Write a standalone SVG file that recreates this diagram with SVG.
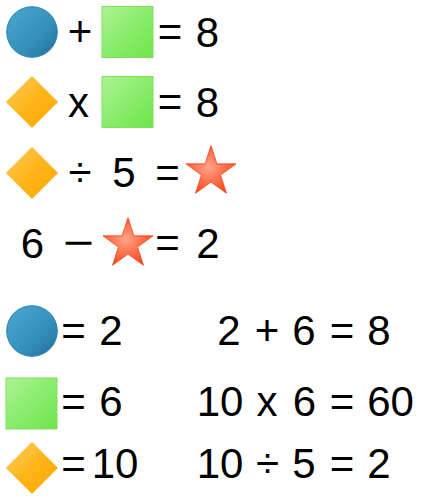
<svg xmlns="http://www.w3.org/2000/svg" xmlns:xlink="http://www.w3.org/1999/xlink" width="423" height="500" viewBox="0 0 423 500">
<style>
  .t { font-family: "Liberation Sans", Arial, sans-serif; font-size: 42px; fill: #000; text-anchor: middle; }
</style>
<defs>
  <linearGradient id="gBlue" x1="0" y1="0" x2="1" y2="1">
    <stop offset="0" stop-color="#4aa8d2"/>
    <stop offset="0.6" stop-color="#3590bb"/>
    <stop offset="1" stop-color="#1f6e96"/>
  </linearGradient>
  <linearGradient id="gGreen" x1="0" y1="0" x2="1" y2="1">
    <stop offset="0" stop-color="#acf396"/>
    <stop offset="0.5" stop-color="#8aec6d"/>
    <stop offset="1" stop-color="#6fe54a"/>
  </linearGradient>
  <linearGradient id="gOrange" x1="0" y1="0" x2="1" y2="1">
    <stop offset="0" stop-color="#ffd060"/>
    <stop offset="0.5" stop-color="#ffb41a"/>
    <stop offset="1" stop-color="#ffa800"/>
  </linearGradient>
  <radialGradient id="gRed" cx="0.45" cy="0.45" r="0.6">
    <stop offset="0" stop-color="#ffa488"/>
    <stop offset="0.6" stop-color="#ff6a45"/>
    <stop offset="1" stop-color="#ff4518"/>
  </radialGradient>
  <g id="circ"><circle cx="0" cy="0" r="25.3" fill="url(#gBlue)" stroke="#2a7fab" stroke-width="1"/></g>
  <g id="sq"><rect x="-25.5" y="-25.5" width="51" height="51" fill="url(#gGreen)" stroke="#7be25a" stroke-width="1"/></g>
  <g id="dia"><polygon points="0,-25.5 25.5,0 0,25.5 -25.5,0" fill="url(#gOrange)" stroke="#f7a800" stroke-width="0.8"/></g>
  <g id="star"><polygon points="0,-26.3 5.91,-8.13 25.01,-8.13 9.56,3.11 15.46,21.28 0,10.05 -15.46,21.28 -9.56,3.11 -25.01,-8.13 -5.91,-8.13" fill="url(#gRed)" stroke="#f0401a" stroke-width="0.8" stroke-linejoin="miter"/></g>
</defs>

<g id="eq1">
  <use xlink:href="#circ" href="#circ" x="32" y="32"/>
  <text class="t" x="80" y="46">+</text>
  <use xlink:href="#sq" href="#sq" x="127.5" y="32"/>
  <text class="t" x="170" y="46">=</text>
  <text class="t" x="207.5" y="47">8</text>
</g>

<g id="eq2">
  <use xlink:href="#dia" href="#dia" x="32" y="102"/>
  <text class="t" x="78.5" y="117">x</text>
  <use xlink:href="#sq" href="#sq" x="127.5" y="102"/>
  <text class="t" x="170" y="116">=</text>
  <text class="t" x="207.5" y="117">8</text>
</g>

<g id="eq3">
  <use xlink:href="#dia" href="#dia" x="32" y="173"/>
  <text class="t" x="80" y="187">÷</text>
  <text class="t" x="124" y="187">5</text>
  <text class="t" x="167.5" y="187">=</text>
  <use xlink:href="#star" href="#star" x="211" y="172"/>
</g>

<g id="eq4">
  <text class="t" x="32.5" y="258">6</text>
  <text class="t" x="78.5" y="257" textLength="31" lengthAdjust="spacingAndGlyphs">−</text>
  <use xlink:href="#star" href="#star" x="128" y="244"/>
  <text class="t" x="167.5" y="257">=</text>
  <text class="t" x="208" y="258">2</text>
</g>

<g id="ans1">
  <use xlink:href="#circ" href="#circ" x="32" y="331"/>
  <text class="t" x="73.5" y="345">=</text>
  <text class="t" x="111" y="345">2</text>
  <text class="t" x="229" y="345">2</text>
  <text class="t" x="267" y="345">+</text>
  <text class="t" x="304" y="345">6</text>
  <text class="t" x="342" y="345">=</text>
  <text class="t" x="379" y="345">8</text>
</g>

<g id="ans2">
  <use xlink:href="#sq" href="#sq" x="31.5" y="403.5"/>
  <text class="t" x="73.5" y="416">=</text>
  <text class="t" x="111" y="416">6</text>
  <text class="t" x="220" y="416">10</text>
  <text class="t" x="267" y="416">x</text>
  <text class="t" x="304.5" y="416">6</text>
  <text class="t" x="342" y="416">=</text>
  <text class="t" x="390.5" y="416">60</text>
</g>

<g id="ans3">
  <use xlink:href="#dia" href="#dia" x="32" y="468"/>
  <text class="t" x="73.5" y="478">=</text>
  <text class="t" x="115" y="478">10</text>
  <text class="t" x="220" y="478">10</text>
  <text class="t" x="267.5" y="478">÷</text>
  <text class="t" x="304" y="478">5</text>
  <text class="t" x="342" y="478">=</text>
  <text class="t" x="379" y="478">2</text>
</g>

<g id="connectors"></g>
</svg>
